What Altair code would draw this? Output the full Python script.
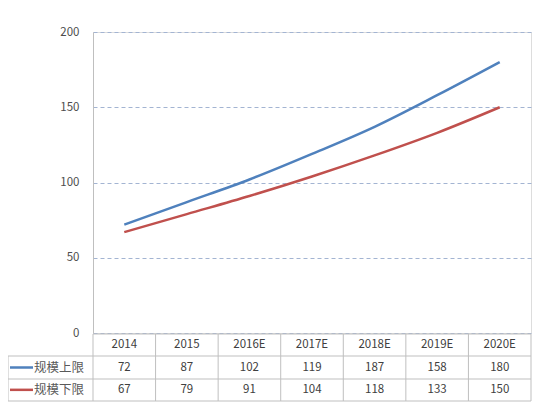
import altair as alt
import pandas as pd

years = ["2014", "2015", "2016E", "2017E", "2018E", "2019E", "2020E"]
series = ["规模上限", "规模下限"]
upper = [72, 87, 102, 119, 137, 158, 180]
lower = [67, 79, 91, 104, 118, 133, 150]
# values as printed in the data table of the reference
upper_table = ["72", "87", "102", "119", "187", "158", "180"]
lower_table = ["67", "79", "91", "104", "118", "133", "150"]
y_ticks = [0, 50, 100, 150, 200]
rows = ["header", "规模上限", "规模下限"]

colors = ["#4F81BD", "#C0504D"]
font = "Noto Sans CJK SC"
txt_color = "#404040"
border = "#BFBFBF"

line_df = pd.DataFrame(
    [{"year": y, "series": series[0], "value": v} for y, v in zip(years, upper)]
    + [{"year": y, "series": series[1], "value": v} for y, v in zip(years, lower)]
)
table_df = pd.DataFrame(
    [{"year": y, "row": "header", "label": y} for y in years]
    + [{"year": y, "row": series[0], "label": t} for y, t in zip(years, upper_table)]
    + [{"year": y, "row": series[1], "label": t} for y, t in zip(years, lower_table)]
)
legend_df = pd.DataFrame({"series": series, "row": series})

W, H = 438, 301
x_scale = alt.Scale(domain=years, paddingInner=0, paddingOuter=0)
row_scale = alt.Scale(domain=rows, range=[302, 369], paddingInner=0, paddingOuter=0)
color_scale = alt.Scale(domain=series, range=colors)

lines = alt.Chart(line_df).mark_line(strokeWidth=2.5, interpolate="monotone").encode(
    x=alt.X("year:N", scale=x_scale, axis=None, sort=years),
    y=alt.Y("value:Q", scale=alt.Scale(domain=[0, 200]),
            axis=alt.Axis(values=y_ticks, title=None, grid=True, gridDash=[4, 3],
                          gridColor="#A3B4D2", gridWidth=1, ticks=False,
                          domainColor=border, labelFont=font, labelFontSize=11.5,
                          labelColor="#4D4D4D", labelPadding=14)),
    color=alt.Color("series:N", scale=color_scale, legend=None),
)

cells = alt.Chart(table_df).mark_text(font=font, fontSize=11.5, color=txt_color).encode(
    x=alt.X("year:N", scale=x_scale, axis=None, sort=years),
    y=alt.Y("row:N", scale=row_scale, axis=None, sort=rows),
    text="label:N",
)

vlines = alt.Chart(pd.DataFrame({"year": years})).mark_rule(color=border, strokeWidth=1).encode(
    x=alt.X("year:N", scale=x_scale, axis=None, sort=years, bandPosition=0),
    y=alt.value(302), y2=alt.value(369),
)
right_line = alt.Chart(pd.DataFrame({"a": [0]})).mark_rule(color=border).encode(
    x=alt.value(W), y=alt.value(302), y2=alt.value(369))
left_line = alt.Chart(pd.DataFrame({"a": [0]})).mark_rule(color=border).encode(
    x=alt.value(-85), y=alt.value(324), y2=alt.value(369))
hline_top = alt.Chart(pd.DataFrame({"a": [0]})).mark_rule(color=border).encode(
    x=alt.value(0), x2=alt.value(W), y=alt.value(302))
hlines = alt.Chart(pd.DataFrame({"yy": [324, 347, 369]})).mark_rule(color=border).encode(
    x=alt.value(-85), x2=alt.value(W),
    y=alt.Y("yy:Q", scale=alt.Scale(domain=[0, H], range=[0, H]), axis=None),
)

legend_lines = alt.Chart(legend_df).mark_rule(strokeWidth=2.5).encode(
    x=alt.value(-83), x2=alt.value(-60),
    y=alt.Y("row:N", scale=row_scale, axis=None, sort=rows),
    color=alt.Color("series:N", scale=color_scale, legend=None),
)
legend_text = alt.Chart(legend_df).mark_text(font=font, fontSize=12.5, color="#595959", align="left").encode(
    x=alt.value(-59),
    y=alt.Y("row:N", scale=row_scale, axis=None, sort=rows),
    text="series:N",
)

table = alt.layer(vlines, right_line, left_line, hline_top, cells, legend_lines, legend_text)

chart = alt.layer(lines, hlines, table).resolve_scale(y="independent").properties(
    width=W, height=H,
    autosize=alt.AutoSizeParams(type="none"),
    padding={"left": 85, "top": 24, "right": 5, "bottom": 72},
).configure_view(stroke=None).configure(background="white")

chart.save("out.html", embed_options={"renderer": "svg", "actions": False})
